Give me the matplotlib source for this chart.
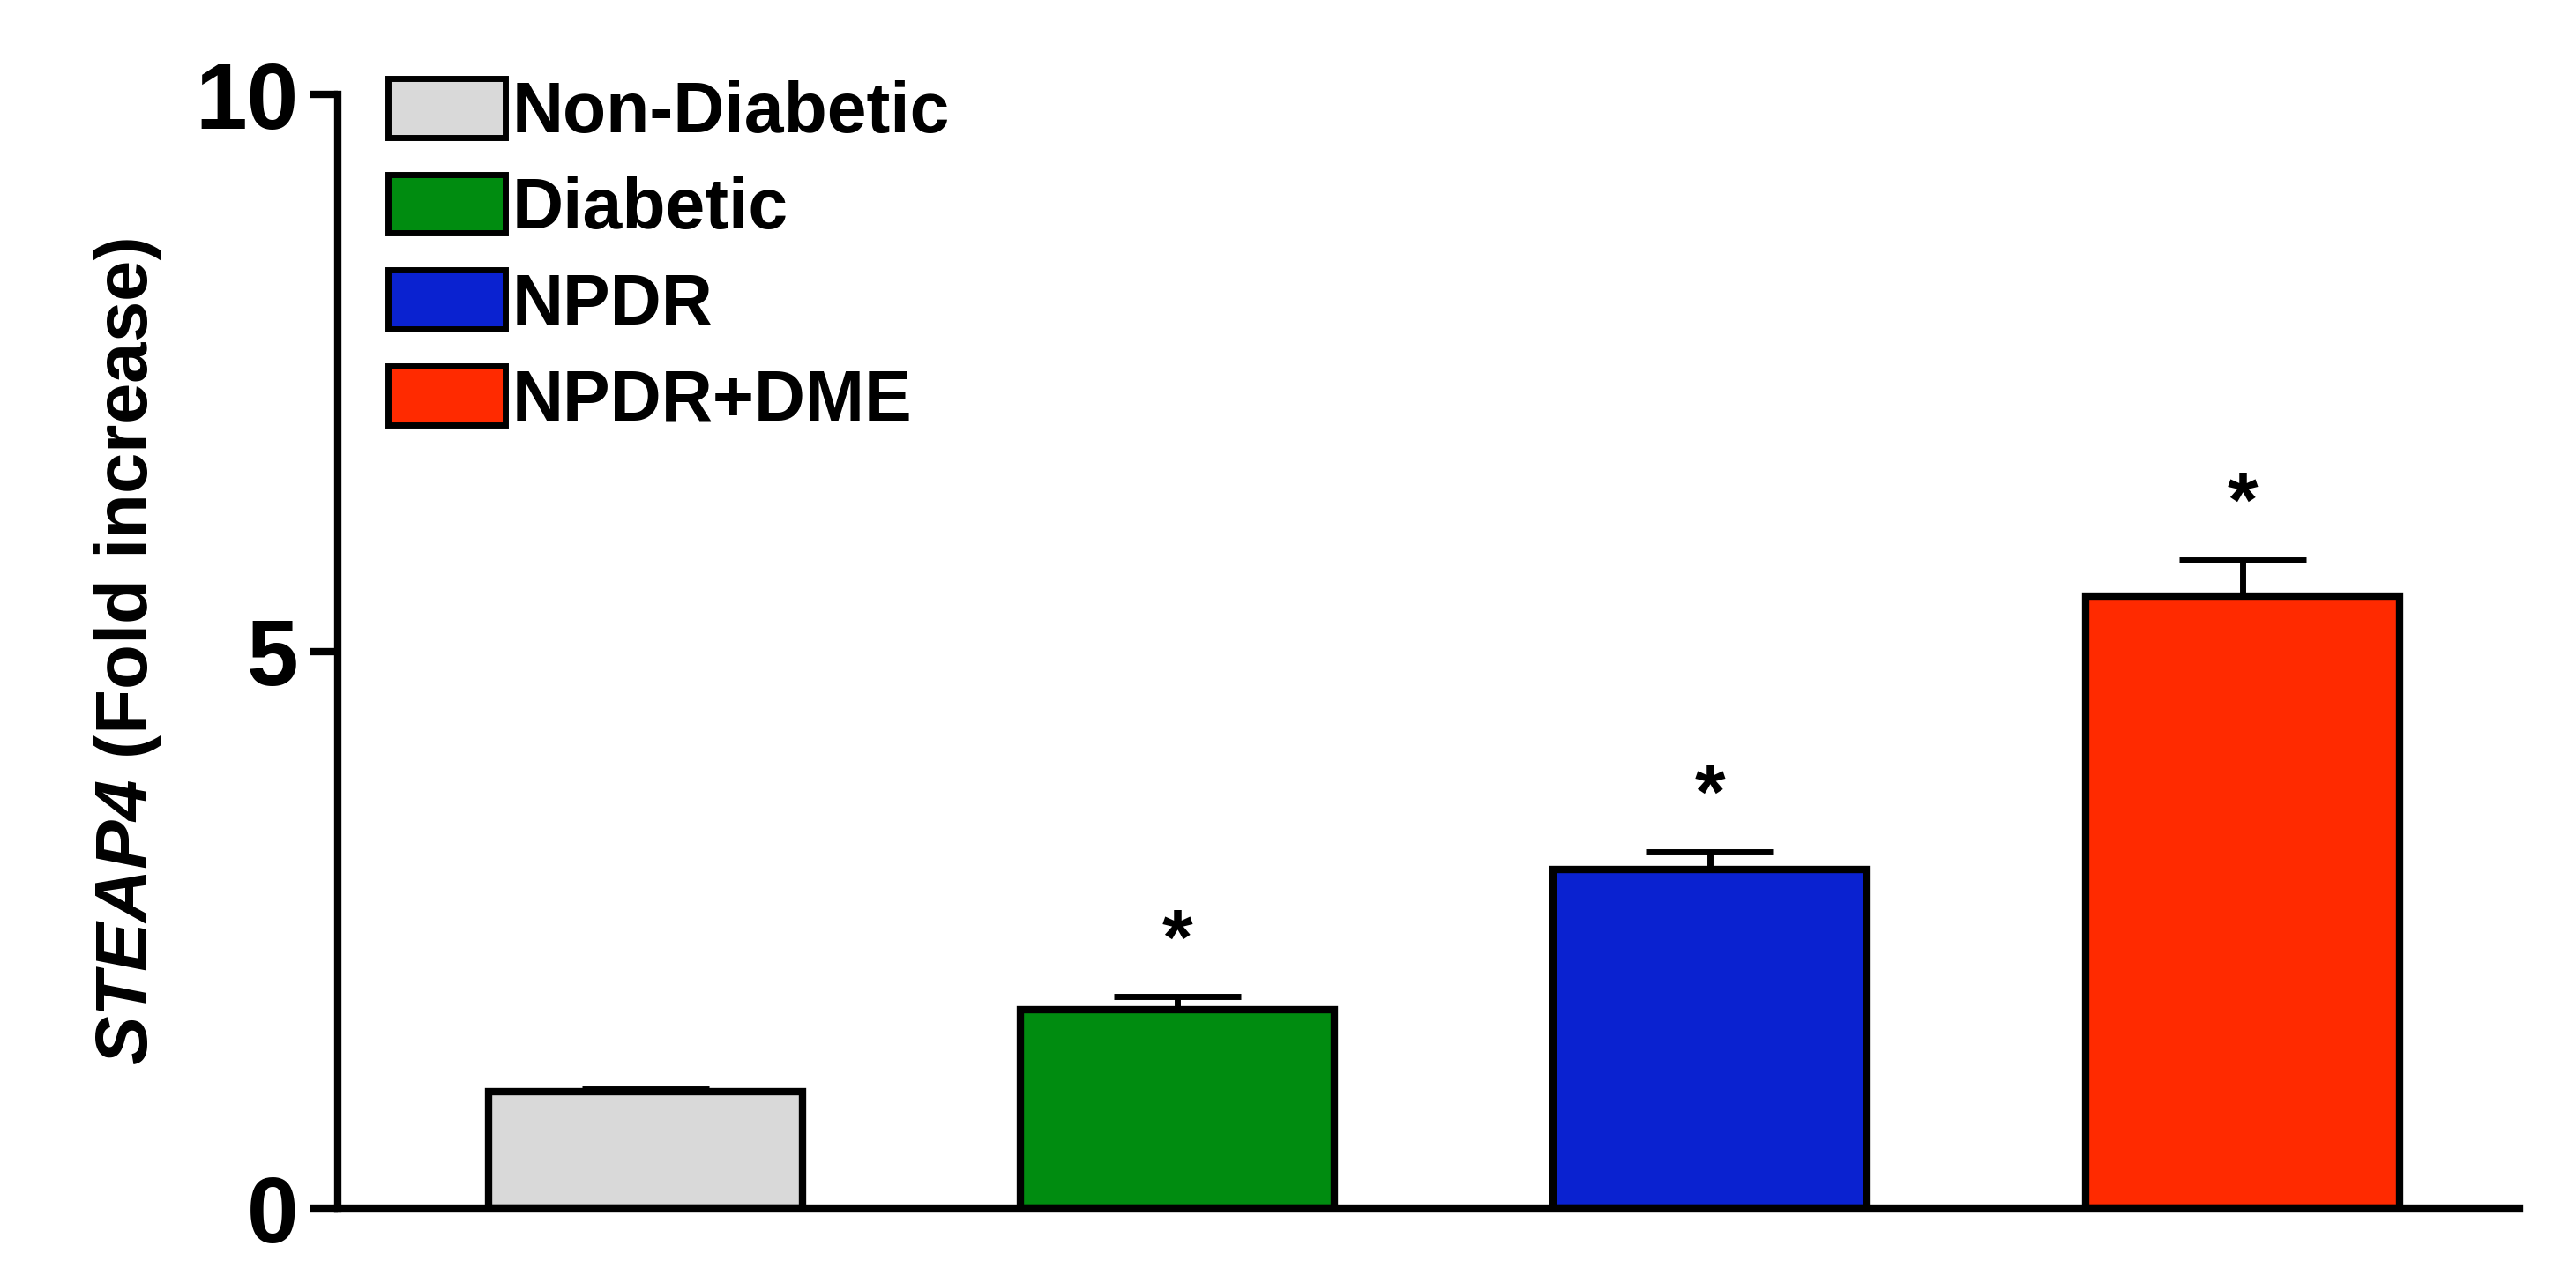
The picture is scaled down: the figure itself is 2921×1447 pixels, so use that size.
import matplotlib
matplotlib.use("Agg")
import matplotlib.pyplot as plt
import numpy as np
from matplotlib.patches import Patch

categories = ["Non-Diabetic", "Diabetic", "NPDR", "NPDR+DME"]
values = [1.05, 1.78, 3.04, 5.5]
errors = [0.02, 0.12, 0.16, 0.32]
colors = ["#d9d9d9", "#008c10", "#0a22d0", "#ff2a00"]
stars = [False, True, True, True]
yticks = [0, 5, 10]

plt.rcParams['font.family'] = ['Liberation Sans', 'DejaVu Sans']
plt.rcParams['font.weight'] = 'bold'
plt.rcParams['mathtext.fontset'] = 'custom'
plt.rcParams['mathtext.bfit'] = 'Liberation Sans:italic:bold'
fig = plt.figure(figsize=(29.21, 14.47), dpi=100)
ax = fig.add_axes([0.131, 0.053, 0.847, 0.873])
x = np.arange(len(categories))
ax.bar(x, values, width=0.59, color=colors, edgecolor='black', linewidth=6)
ax.errorbar(x, values, yerr=[np.zeros(len(values)), errors], fmt='none',
            ecolor='black', elinewidth=5, capsize=52, capthick=5)
for xi, v, e, s in zip(x, values, errors, stars):
    if s:
        ax.text(xi, v + e + 0.15, "*", ha='center', va='bottom', fontsize=64, fontweight='bold')
ax.set_xlim(-0.578, 3.52)
ax.set_ylim(0, 10)
ax.set_yticks(yticks)
ax.set_yticklabels([str(t) for t in yticks], fontsize=76, fontweight='bold')
ax.set_xticks([])
ax.spines['top'].set_visible(False)
ax.spines['right'].set_visible(False)
ax.spines['left'].set_linewidth(6)
ax.spines['bottom'].set_linewidth(6)
ax.tick_params(axis='y', width=6, length=22, pad=10)
ax.set_ylabel(r"$\bfit{STEAP4}$ (Fold increase)", fontsize=60, fontweight='bold', labelpad=25)
handles = [Patch(facecolor=c, edgecolor='black', linewidth=5) for c in colors]
leg = ax.legend(handles, categories, loc='upper left', bbox_to_anchor=(0.01, 1.04),
                frameon=False, fontsize=58, handlelength=1.65, handleheight=0.9,
                handletextpad=0.1, labelspacing=0.38, borderaxespad=0)
for t in leg.get_texts():
    t.set_fontweight('bold')
fig.savefig("out.png", dpi=100)
